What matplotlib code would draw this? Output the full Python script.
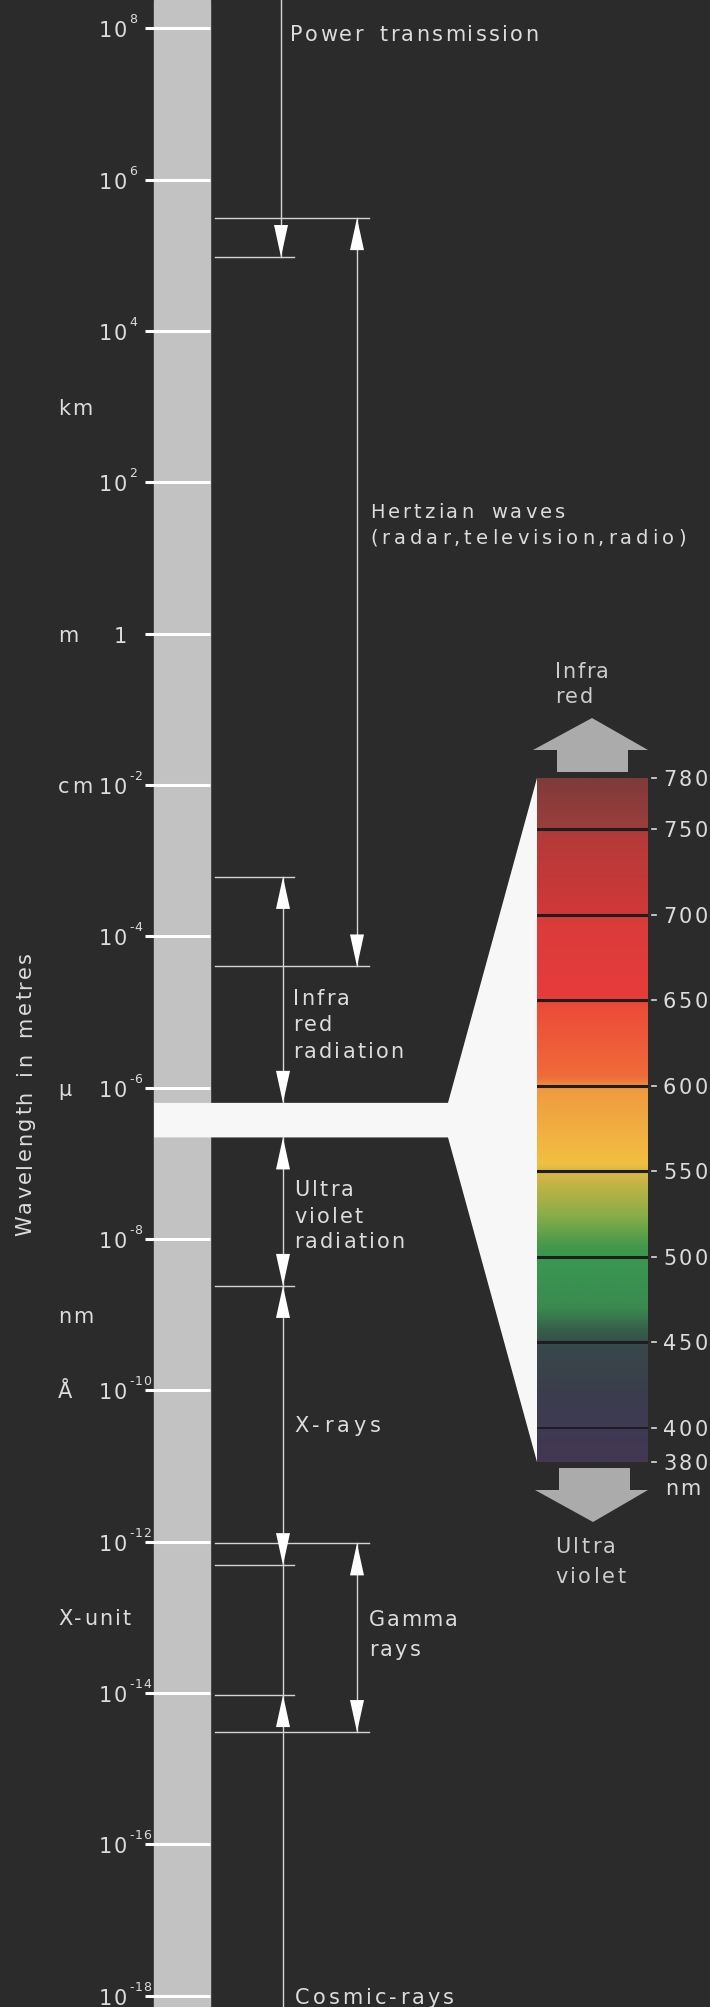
import matplotlib
matplotlib.use('Agg')
import matplotlib.pyplot as plt
import numpy as np
from matplotlib.colors import LinearSegmentedColormap
from matplotlib.patches import Polygon
from matplotlib.transforms import Affine2D, IdentityTransform

plt.rcParams['font.family'] = ['DejaVu Sans']

W, H = 710, 2007
BG = '#2b2b2b'
FG = '#dcdcdc'

# wavelength scale (exponents of 10, metres)
tick_exp = [8, 6, 4, 2, 0, -2, -4, -6, -8, -10, -12, -14, -16, -18]
unit_names = ['km', 'm', 'cm', 'μ', 'nm', 'Å', 'X-unit']
unit_values = [1e3, 1.0, 1e-2, 1e-6, 1e-9, 1e-10, 1e-13]

# visible band as drawn on the main scale (metres)
band_top, band_bot = 6.3e-7, 2.2e-7

# ranges: upper limit, lower limit (metres)
power = (1e9, 9.5e4)
hertz = (3.1e5, 4.0e-5)
infra = (6.1e-4, band_top)
ultra = (band_bot, 2.4e-9)
xray = (2.4e-9, 4.9e-13)
gamma = (9.5e-13, 3.05e-15)
cosmic = (9.4e-15, 1e-19)

# visible spectrum (nm)
spec_ticks = [780, 750, 700, 650, 600, 550, 500, 450, 400, 380]
spec_lines = [750, 700, 650, 600, 550, 500, 450, 400]
spec_stops = [380, 400, 420, 445, 455, 470, 498, 505, 525, 548, 555,
              598, 605, 648, 652, 698, 702, 748, 752, 780]
spec_cols = ['#433752', '#3e3a52', '#3b3e4c', '#38474a', '#365a4a', '#3a8a50',
             '#3a9850', '#40984c', '#8cae48', '#d4b646', '#f2bf42',
             '#f09a40', '#f06c3a', '#ec4a38', '#e83c3c', '#d93b3b',
             '#d03838', '#b43a3a', '#9a3e3c', '#803a3a']

fig = plt.figure(figsize=(W / 100, H / 100), dpi=100, facecolor=BG)
ax = fig.add_axes([0, 0, 1, 1])
ax.set_facecolor(BG)
ax.set_xlim(0, W)
ax.set_yscale('log')
ppd = 75.67  # pixels per decade
ax.set_ylim(10 ** (8 - (H - 28.3) / ppd), 10 ** (8 + 28.3 / ppd))
ax.axis('off')

pix = Affine2D().scale(1, -1).translate(0, H)  # top-left pixel coords
rend = fig.canvas.get_renderer()


def spaced(x, y, s, size=15, gap=2.2, ha='left', color=FG, rot=False, sp=12):
    # letter-spaced text, y is the baseline in top-left pixels
    widths = []
    for ch in s:
        if ch == ' ':
            widths.append(None)
            continue
        t = fig.text(0, 0, ch, fontsize=size)
        widths.append(t.get_window_extent(rend).width)
        t.remove()
    total = sum(sp if w is None else w for w in widths) + gap * (len(s) - 1)
    off = {'left': 0, 'center': total / 2, 'right': total}[ha]
    pos = -off
    for ch, w in zip(s, widths):
        if w is None:
            pos += sp + gap
            continue
        if rot:
            fig.text(x, y - pos, ch, transform=pix, fontsize=size, color=color,
                     rotation=90, rotation_mode='anchor', ha='left',
                     va='baseline')
        else:
            fig.text(x + pos, y, ch, transform=pix, fontsize=size,
                     color=color, ha='left', va='baseline')
        pos += w + gap


def ypix(v):
    return H - ax.transData.transform((0, v))[1]


# grey scale bar
ax.axvspan(154, 210, color='#c2c2c2', zorder=1)
for e in tick_exp:
    ax.plot([145, 210], [10.0 ** e, 10.0 ** e], color='white', lw=2.2, zorder=2,
            solid_capstyle='butt')
    ty = ypix(10.0 ** e)
    if e == 0:
        spaced(127, ty + 9, '1', ha='right')
    else:
        spaced(127, ty + 9, '10', ha='right', gap=1.5)
        spaced(129, ty - 5, '%d' % e, size=9, gap=0.8)

for name, v in zip(unit_names, unit_values):
    spaced(58, ypix(v) + 8, name, gap=2.2)

spaced(31, 1094, 'Wavelength in metres', gap=2.2, ha='center', rot=True)

# range lines
lc = '#d4d4d4'
ax.plot([281, 281], power, color=lc, lw=1)
for lim in [hertz, gamma]:
    ax.plot([357, 357], lim, color=lc, lw=1)
ax.plot([283, 283], [infra[0], cosmic[1]], color=lc, lw=1)

for v in [power[1], infra[0], ultra[1], xray[1], cosmic[0]]:
    ax.plot([215, 294], [v, v], color=lc, lw=1)
for v in [hertz[0], hertz[1], gamma[0], gamma[1]]:
    ax.plot([215, 369], [v, v], color=lc, lw=1)


def head(x, y, up):
    tx, ty = ax.transData.transform((x, y))
    d = -32 if up else 32
    p = Polygon([(tx, ty), (tx - 7, ty + d), (tx + 7, ty + d)],
                closed=True, transform=IdentityTransform(), color='white',
                lw=0, zorder=5)
    fig.patches.append(p)


head(281, power[1], False)
for lim in [hertz, gamma]:
    head(357, lim[0], True)
    head(357, lim[1], False)
for lim in [infra, ultra, xray]:
    head(283, lim[0], True)
    head(283, lim[1], False)
head(283, cosmic[0], True)

# visible spectrum panel
spec = fig.add_axes([537 / W, (H - 1462) / H, (648 - 537) / W, (1462 - 778) / H])
spec.set_xlim(0, 1)
spec.set_ylim(380, 780)
spec.axis('off')
cmap = LinearSegmentedColormap.from_list(
    'vis', [((s - 380) / 400, c) for s, c in zip(spec_stops, spec_cols)])
grad = np.linspace(0, 1, 800)[:, None]
spec.imshow(grad, extent=[0, 1, 380, 780], origin='lower', aspect='auto',
            cmap=cmap, interpolation='bilinear')
for v in spec_lines:
    spec.axhline(v, color='#1e1e1e', lw=2.2 if v > 420 else 1.4)
ytr = spec.get_yaxis_transform()
for v in spec_ticks:
    spec.plot([1.04, 1.07], [v, v], color=FG, lw=1.2, transform=ytr,
              clip_on=False)
    sy = H - spec.transData.transform((0, v))[1]
    spaced(663, sy + 8, str(v), gap=2.5)

# white wedge linking band to spectrum
t = ax.transData.transform
s = spec.transData.transform
wedge = [t((154, band_top)), t((448, band_top)), s((0, 780)), s((0, 380)),
         t((448, band_bot)), t((154, band_bot))]
fig.patches.append(Polygon(wedge, closed=True, transform=IdentityTransform(),
                           color='#f7f7f7', lw=0, zorder=4))

# grey block arrows
ga = '#ababab'
up = [(557, 772), (557, 750), (533, 750), (592, 718), (648, 750), (628, 750),
      (628, 772)]
dn = [(559, 1468), (630, 1468), (630, 1490), (648, 1490), (593, 1522),
      (535, 1490), (559, 1490)]
for poly in [up, dn]:
    fig.patches.append(Polygon(poly, closed=True, transform=pix,
                               color=ga, lw=0, zorder=4))

# labels (baselines in top-left pixels)
spaced(290, 41, 'Power transmission', gap=2.3)
spaced(370, 518, 'Hertzian waves', size=14, gap=3.0)
spaced(370, 544, '(radar,television,radio)', size=14, gap=4)
for yy, s_ in zip([1005, 1031, 1058], ['Infra', 'red', 'radiation']):
    spaced(293, yy, s_)
for yy, s_ in zip([1196, 1223, 1248], ['Ultra', 'violet', 'radiation']):
    spaced(294, yy, s_)
spaced(294, 1432, 'X-rays', gap=4)
spaced(369, 1626, 'Gamma', gap=1.5)
spaced(369, 1656, 'rays')
spaced(295, 2004, 'Cosmic-rays', gap=3.1)
spaced(555, 678, 'Infra', color='#cccccc', gap=1.5)
spaced(555, 703, 'red', color='#cccccc', gap=1.5)
spaced(555, 1553, 'Ultra', color='#cccccc', gap=2.5)
spaced(555, 1583, 'violet', color='#cccccc', gap=2.5)
spaced(683, 1495, 'nm', ha='center')

fig.savefig('out.png', dpi=100, facecolor=BG)
